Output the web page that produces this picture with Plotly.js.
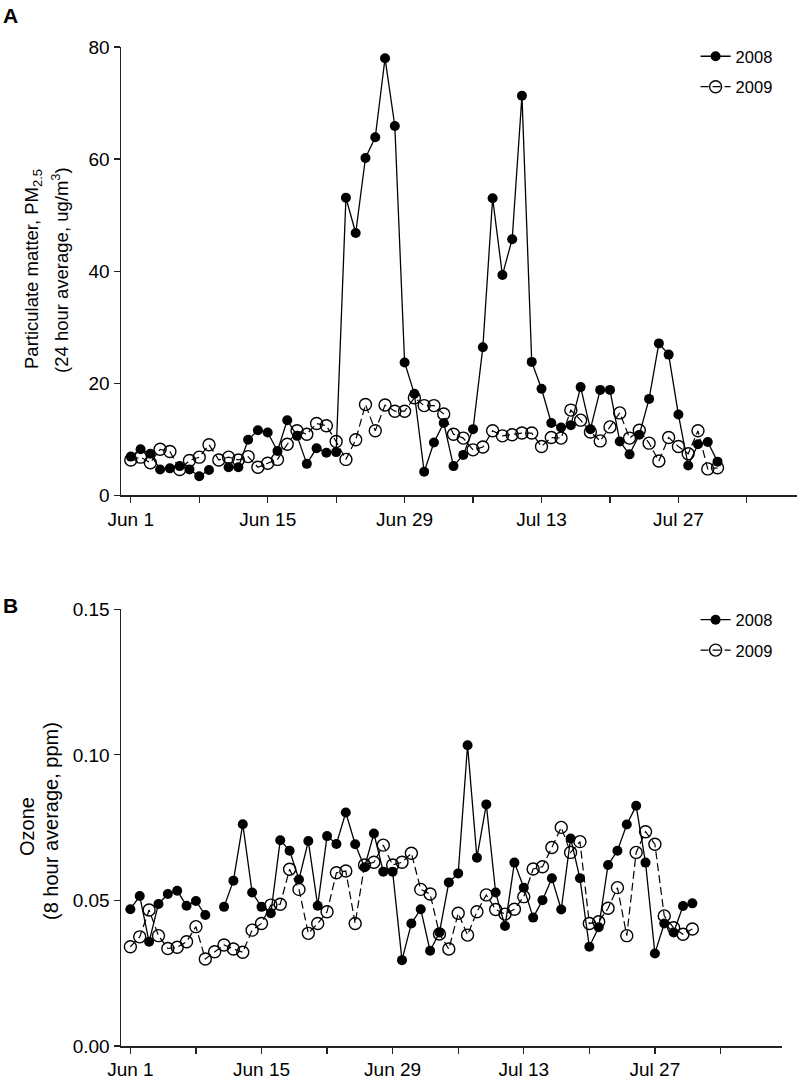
<!DOCTYPE html>
<html><head><meta charset="utf-8">
<script src="https://cdn.plot.ly/plotly-3.0.1.min.js"></script>
<style>html,body{margin:0;padding:0;background:#fff}#chart{width:797px;height:1082px}</style>
</head><body><div id="chart"></div>
<script>
// Season days: Jun 1 .. Jul 31 (common seasonal axis for both years)
const startDate = '2008-06-01';
const nDays = 61;
const seriesNames = ['2008', '2009'];
const xTickLabelsFormat = '%b %-d';
const titleA = ['Particulate matter, PM<sub>2.5</sub>', '(24 hour average, ug/m<sup>3</sup>)'];
const titleB = ['Ozone', '(8 hour average, ppm)'];

// Panel A: PM2.5, 24 hour average (ug/m3)
const pm2008 = [6.9, 8.2, 7.4, 4.6, 4.8, 5.2, 4.6, 3.4, 4.5, null,
  5.0, 5.0, 9.9, 11.6, 11.2, 7.9, 13.4, 10.6, 5.6, 8.4,
  7.6, 7.7, 53.1, 46.8, 60.2, 63.9, 78.0, 65.9, 23.7, 18.1,
  4.2, 9.4, 12.9, 5.2, 7.2, 11.8, 26.4, 53.0, 39.3, 45.7,
  71.3, 23.8, 19.0, 12.9, 12.1, 12.5, 19.3, 11.8, 18.8, 18.8,
  9.6, 7.3, 10.8, 17.2, 27.1, 25.1, 14.4, 5.3, 9.1, 9.5, 6.0];
const pm2009 = [6.3, 6.8, 5.8, 8.2, 7.8, 4.6, 6.2, 6.8, 9.0, 6.3,
  6.8, 6.3, 6.9, 5.0, 5.7, 6.4, 9.1, 11.5, 10.9, 12.8,
  12.4, 9.6, 6.4, 9.9, 16.2, 11.5, 16.1, 15.0, 15.0, 17.4,
  16.0, 16.0, 14.5, 10.9, 10.2, 8.1, 8.6, 11.5, 10.6, 10.8,
  11.1, 11.1, 8.7, 10.3, 10.2, 15.2, 13.4, 11.3, 9.7, 12.2,
  14.7, 10.2, 11.6, 9.3, 6.1, 10.3, 8.7, 7.4, 11.5, 4.7, 4.9];

// Panel B: Ozone, 8 hour average (ppm)
const oz2008 = [0.0470, 0.0515, 0.0358, 0.0488, 0.0522, 0.0533, 0.0482, 0.0498, 0.0450, null,
  0.0478, 0.0568, 0.0762, 0.0527, 0.0478, 0.0456, 0.0707, 0.0671, 0.0572, 0.0704,
  0.0482, 0.0721, 0.0694, 0.0802, 0.0693, 0.0614, 0.0730, 0.0599, 0.0599, 0.0295,
  0.0421, 0.0470, 0.0327, 0.0390, 0.0562, 0.0593, 0.1033, 0.0647, 0.0830, 0.0527,
  0.0412, 0.0630, 0.0544, 0.0441, 0.0501, 0.0576, 0.0469, 0.0713, 0.0576, 0.0341,
  0.0408, 0.0622, 0.0671, 0.0761, 0.0825, 0.0630, 0.0318, 0.0421, 0.0390, 0.0481, 0.0490];
const oz2009 = [0.0341, 0.0375, 0.0467, 0.0379, 0.0335, 0.0339, 0.0358, 0.0410, 0.0299, 0.0324,
  0.0347, 0.0333, 0.0322, 0.0398, 0.0421, 0.0484, 0.0487, 0.0607, 0.0538, 0.0387,
  0.0421, 0.0461, 0.0595, 0.0601, 0.0421, 0.0622, 0.0631, 0.0690, 0.0622, 0.0631,
  0.0662, 0.0538, 0.0522, 0.0385, 0.0333, 0.0456, 0.0381, 0.0461, 0.0519, 0.0469,
  0.0453, 0.0470, 0.0513, 0.0608, 0.0616, 0.0682, 0.0751, 0.0665, 0.0702, 0.0421,
  0.0427, 0.0473, 0.0544, 0.0379, 0.0665, 0.0736, 0.0693, 0.0447, 0.0406, 0.0384, 0.0402];

const dates = [];
for (let i = 0; i < nDays; i++) {
  const d = new Date(Date.parse(startDate + 'T00:00:00Z') + i * 86400000);
  dates.push(d.toISOString().slice(0, 10));
}

const FONT = 'Liberation Sans, Arial, Helvetica, sans-serif';
const DAY = 86400000;

function filledTrace(y, xa, ya, lg) {
  return {x: dates, y: y, xaxis: xa, yaxis: ya, legend: lg, name: seriesNames[0],
    type: 'scatter', mode: 'lines+markers', connectgaps: false, legendrank: 1,
    legendgroup: lg + 'a',
    line: {color: '#000', width: 1.3},
    marker: {symbol: 'circle', size: 10, color: '#000'}};
}
function openTrace(y, xa, ya, lg) {
  return {x: dates, y: y, xaxis: xa, yaxis: ya, legend: lg, name: seriesNames[1],
    type: 'scatter', mode: 'lines+markers', connectgaps: false, legendrank: 2,
    legendgroup: lg + 'b',
    line: {color: '#000', width: 1.2, dash: '8px,4px'},
    marker: {symbol: 'circle-open', size: 12, color: '#000', line: {width: 1.4, color: '#000'}}};
}

const data = [
  openTrace(pm2009, 'x', 'y', 'legend'),
  filledTrace(pm2008, 'x', 'y', 'legend'),
  openTrace(oz2009, 'x2', 'y2', 'legend2'),
  filledTrace(oz2008, 'x2', 'y2', 'legend2')
];

function xAxis(domain, rangeEnd, anchor) {
  return {
    type: 'date', domain: domain, anchor: anchor,
    range: ['2008-05-31', rangeEnd],
    tick0: startDate, dtick: 14 * DAY, tickformat: xTickLabelsFormat,
    ticks: 'outside', ticklen: 6, tickwidth: 1.2, tickcolor: '#222',
    minor: {tick0: startDate, dtick: 7 * DAY, ticks: 'outside', ticklen: 6, tickwidth: 1.2, tickcolor: '#222', showgrid: false},
    showline: true, linecolor: '#222', linewidth: 1.5,
    showgrid: false, zeroline: false,
    tickfont: {family: FONT, size: 19, color: '#000'}
  };
}
function yAxis(domain, range, dtick, fmt, anchor) {
  return {
    domain: domain, anchor: anchor, range: range, dtick: dtick, tick0: 0, tickformat: fmt,
    ticks: 'outside', ticklen: 6, tickwidth: 1.2, tickcolor: '#222',
    showline: true, linecolor: '#222', linewidth: 1.5,
    showgrid: false, zeroline: false,
    tickfont: {family: FONT, size: 19, color: '#000'}
  };
}

const legendStyle = (y) => ({
  x: 0.85, xanchor: 'left', y: y, yanchor: 'top',
  bgcolor: 'rgba(0,0,0,0)', borderwidth: 0,
  font: {family: FONT, size: 16.5, color: '#000'},
  traceorder: 'grouped', tracegroupgap: 6
});

// paper coordinates helpers (plot area: x 121..797, y 47..1046)
const px = (v) => (v - 121) / 676;
const py = (v) => (1046 - v) / 999;

function yTitle(text, xPix, yPix, size) {
  return {text: text, xref: 'paper', yref: 'paper', x: px(xPix), y: py(yPix),
    xanchor: 'center', yanchor: 'middle', textangle: -90, showarrow: false,
    font: {family: FONT, size: size, color: '#000'}};
}

const layout = {
  width: 797, height: 1082,
  margin: {l: 121, r: 0, t: 47, b: 36},
  paper_bgcolor: '#fff', plot_bgcolor: '#fff',
  showlegend: true,
  xaxis: xAxis([0, 1], '2008-08-08T03:00', 'y'),
  yaxis: yAxis([0.5513, 1], [0, 80], 20, '', 'x'),
  xaxis2: xAxis([0, 0.978], '2008-08-09T14:00', 'y2'),
  yaxis2: yAxis([0, 0.4371], [0, 0.15], 0.05, '.2f', 'x2'),
  legend: legendStyle(1.008),
  legend2: legendStyle(0.444),
  annotations: [
    {text: '<b>A</b>', xref: 'paper', yref: 'paper', x: px(1), y: py(15), xanchor: 'left', yanchor: 'middle', showarrow: false,
     font: {family: FONT, size: 21, color: '#000'}},
    {text: '<b>B</b>', xref: 'paper', yref: 'paper', x: px(1), y: py(605), xanchor: 'left', yanchor: 'middle', showarrow: false,
     font: {family: FONT, size: 21, color: '#000'}},
    yTitle(titleA[0], 33, 269, 18.5),
    yTitle(titleA[1], 60, 270, 18.5),
    yTitle(titleB[0], 27, 827, 20),
    yTitle(titleB[1], 51, 821, 20)
  ]
};

Plotly.newPlot('chart', data, layout, {displayModeBar: false, staticPlot: true});
</script>
</body></html>
